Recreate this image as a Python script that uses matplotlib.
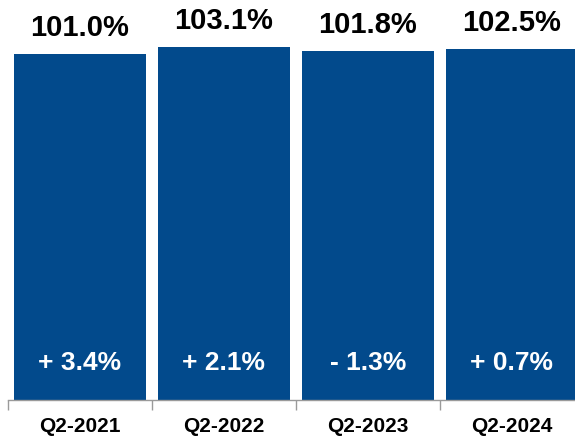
import numpy as np
import matplotlib.pyplot as plt

# du lieu
quarters = ["Q2-2021", "Q2-2022", "Q2-2023", "Q2-2024"]
values = [101.0, 103.1, 101.8, 102.5]
changes = ["+ 3.4%", "+ 2.1%", "- 1.3%", "+ 0.7%"]

plt.rcParams['font.family'] = ['Liberation Sans', 'DejaVu Sans']

fig = plt.figure(figsize=(5.75, 4.41), dpi=100)
ax = fig.add_axes([8/575, 41/441, 576/575, 400/441])

x = np.arange(len(quarters))
ax.bar(x, values, width=0.91, color="#024A8C")

for xi, v, c in zip(x, values, changes):
    ax.annotate(f"{v:.1f}%", (xi, v), xytext=(0, 13), textcoords="offset points",
                ha="center", va="baseline", fontsize=21, fontweight="bold", color="black")
    ax.text(xi, 10.8, c, ha="center", va="center", fontsize=19,
            fontweight="bold", color="white")

ax.set_xlim(-0.5, 3.5)
ax.set_ylim(0, 400/3.424)

# vach chia giua cac cot
ax.set_xticks(np.arange(-0.5, 4, 1))
ax.set_xticklabels([])
ax.set_xticks(x, minor=True)
ax.set_xticklabels(quarters, minor=True, fontsize=15, fontweight="bold")
ax.tick_params(axis="x", which="major", length=7, color="#9a9a9a", width=1)
ax.tick_params(axis="x", which="minor", length=0, pad=12)
ax.set_yticks([])

for s in ["left", "top", "right"]:
    ax.spines[s].set_visible(False)
ax.spines["bottom"].set_color("#9a9a9a")
ax.spines["bottom"].set_linewidth(1)

fig.savefig("out.png", dpi=100)
